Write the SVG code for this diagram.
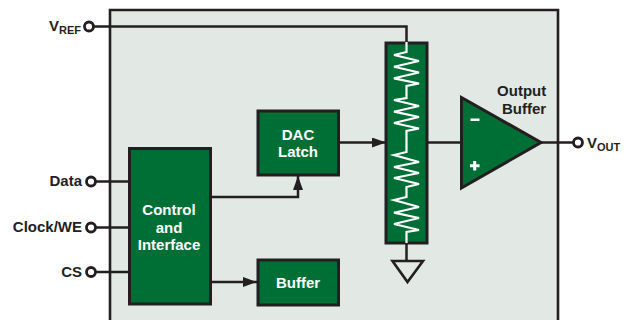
<svg xmlns="http://www.w3.org/2000/svg" width="626" height="320" viewBox="0 0 626 320">
<defs>
<marker id="arr" markerUnits="userSpaceOnUse" markerWidth="14" markerHeight="10" refX="14" refY="5" orient="auto"><path d="M0,0L14,5L0,10Z" fill="#231f20"/></marker>
</defs>
<style>
.lbl{font-family:"Liberation Sans",Arial,sans-serif;font-weight:700;fill:#231f20;font-size:15px}
.in{font-family:"Liberation Sans",Arial,sans-serif;font-weight:700;fill:#fff;font-size:15px;text-anchor:middle}
.blk{fill:#006f36;stroke:#231f20;stroke-width:3}
.w{fill:none;stroke:#231f20;stroke-width:2.5}
.pin{fill:#fff;stroke:#231f20;stroke-width:2.8}
.z{fill:none;stroke:#fff;stroke-width:2.2;stroke-linejoin:miter}
.sub{font-size:11px}
</style>
<rect width="626" height="320" fill="#fff"/>
<path id="chip" d="M110,330V10H558V330" fill="#e2e8e4" stroke="#231f20" stroke-width="2.6"/>
<g id="connectors">
<path class="w" d="M94,26.500H406.500V42"/>
<path class="w" d="M96,181.500H129"/>
<path class="w" d="M96,227.500H129"/>
<path class="w" d="M96,272H129"/>
<path class="w" d="M211,197H298V176" marker-end="url(#arr)"/>
<path class="w" d="M211,282H257" marker-end="url(#arr)"/>
<path class="w" d="M339,142.500H386" marker-end="url(#arr)"/>
<path class="w" d="M427,142.500H461"/>
<path class="w" d="M541,142.500H574"/>
<path class="w" d="M406.500,243V261"/>
</g>
<g id="control"><rect class="blk" x="129.500" y="148.500" width="81" height="155.500"/>
<text class="in" x="169" y="215">Control</text><text class="in" x="169" y="232.500">and</text><text class="in" x="169" y="250">Interface</text></g>
<g id="dac-latch"><rect class="blk" x="258" y="111" width="80.500" height="64"/>
<text class="in" x="298" y="140">DAC</text><text class="in" x="298" y="157">Latch</text></g>
<g id="buffer"><rect class="blk" x="258" y="260" width="80.500" height="45"/>
<text class="in" x="298" y="288">Buffer</text></g>
<g id="resistor"><rect class="blk" x="386" y="43" width="41" height="200"/>
<path class="z" d="M406.500,42V52L394,55L419,61L394,66.700L419,72.500L394,78.300L419,83.500L406.500,86V98L394,100L419,106L394,111.700L419,117L394,123L419,128.500L406.500,131V152L394,155L419,162L394,167L419,173L394,178L419,184L406.500,187V197L394,200L419,207L394,212.700L419,218L394,224L419,230L406.500,232V243"/></g>
<g id="ground"><path d="M392.500,261H423L407.500,282Z" fill="none" stroke="#231f20" stroke-width="2.600"/></g>
<g id="opamp"><path d="M461.500,97.500L541,142.500L461.500,188Z" class="blk"/>
<rect x="470.500" y="118.500" width="9" height="2.500" fill="#fff"/>
<path d="M474.700,161V170.500M470,165.700H479.500" stroke="#fff" stroke-width="3"/>
<text class="lbl" x="521.700" y="96" text-anchor="middle">Output</text><text class="lbl" x="524" y="114" text-anchor="middle">Buffer</text></g>
<g id="vref"><circle class="pin" cx="89" cy="26.500" r="4.500"/><text class="lbl" x="49" y="31">V<tspan class="sub" dy="3">REF</tspan></text></g>
<g id="data"><circle class="pin" cx="91" cy="181.500" r="4.500"/><text class="lbl" x="82" y="186" text-anchor="end">Data</text></g>
<g id="clock"><circle class="pin" cx="91" cy="227.500" r="4.500"/><text class="lbl" x="82" y="231.500" text-anchor="end">Clock/WE</text></g>
<g id="cs"><circle class="pin" cx="91" cy="272" r="4.500"/><text class="lbl" x="82" y="277" text-anchor="end">CS</text></g>
<g id="vout"><circle class="pin" cx="578" cy="142.500" r="4.500"/><text class="lbl" x="587" y="148">V<tspan class="sub" dy="3">OUT</tspan></text></g>
</svg>
